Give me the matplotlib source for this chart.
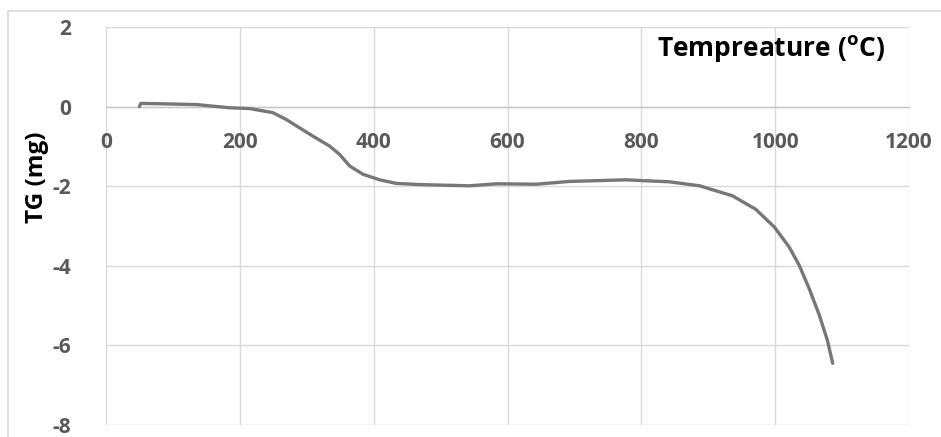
import numpy as np
import matplotlib
matplotlib.use("Agg")
import matplotlib.pyplot as plt
from matplotlib.patches import Rectangle

# TG curve
temperature = [50, 52, 85, 136, 185, 215, 249, 270, 285, 309, 334, 349, 364, 384,
               409, 434, 470, 543, 584, 643, 693, 777, 842, 887, 936, 971, 999,
               1021, 1036, 1051, 1066, 1078, 1086]
tg_mg = [0.0, 0.08, 0.07, 0.05, -0.03, -0.05, -0.15, -0.33, -0.49, -0.74, -0.99,
         -1.2, -1.49, -1.7, -1.84, -1.93, -1.96, -1.99, -1.94, -1.95, -1.88, -1.84,
         -1.89, -1.99, -2.24, -2.58, -3.03, -3.53, -3.99, -4.58, -5.24, -5.87, -6.45]

x_ticks = [0, 200, 400, 600, 800, 1000, 1200]
y_ticks = [-8, -6, -4, -2, 0, 2]

plt.rcParams["font.family"] = ["Open Sans", "DejaVu Sans"]
plt.rcParams["mathtext.default"] = "regular"
plt.rcParams["axes.unicode_minus"] = False

W, H = 941, 437
fig = plt.figure(figsize=(W / 100, H / 100), dpi=100)
ax = fig.add_axes([106 / W, 1 - 425 / H, (909 - 106) / W, (425 - 27) / H])

# outer chart border (runs off the picture at right and bottom)
fig.patches.append(Rectangle((8 / W, -0.1), 1.2, 1 - 11 / H + 0.1,
                             transform=fig.transFigure, fill=False,
                             edgecolor="#d9d9d9", linewidth=1.2, zorder=0))

ax.plot(temperature, tg_mg, color="#777777", linewidth=2.4, solid_capstyle="round",
        solid_joinstyle="round", zorder=3)

ax.set_xlim(0, 1200)
ax.set_ylim(-8, 2)
ax.set_xticks(x_ticks)
ax.set_yticks(y_ticks)
ax.grid(True, color="#d9d9d9", linewidth=1)
ax.set_axisbelow(True)

for side in ["top", "right", "left"]:
    ax.spines[side].set_visible(False)
ax.spines["bottom"].set_position(("data", 0))
ax.spines["bottom"].set_color("#c8c8c8")
ax.spines["bottom"].set_linewidth(1)

ax.tick_params(axis="both", length=0, labelsize=15, labelcolor="#595959")
ax.tick_params(axis="x", pad=18)
ax.tick_params(axis="y", pad=25)
for lbl in ax.get_xticklabels() + ax.get_yticklabels():
    lbl.set_fontweight("bold")

ax.set_ylabel("TG (mg)", fontsize=17.5, fontweight="bold", color="black")
ax.yaxis.set_label_coords(-57 / (909 - 106), 0.623)

ax.text(885 / W, 1 - 49 / H, "Tempreature ($^{o}$C)", transform=fig.transFigure,
        ha="right", va="center", fontsize=19, fontweight="bold", color="black")

fig.savefig("out.png", dpi=100)
